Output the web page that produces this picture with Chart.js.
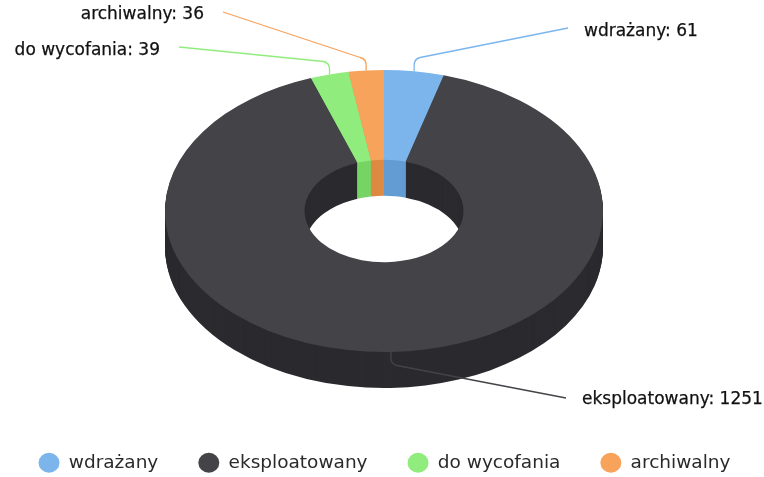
<!DOCTYPE html>
<html><head><meta charset="utf-8">
<style>html,body{margin:0;padding:0;background:#fff}canvas{display:block}</style>
<script src="https://cdn.jsdelivr.net/npm/chart.js@4"></script>
</head><body><canvas id="c" width="764" height="477"></canvas>
<script>
const categories = ['wdrażany', 'eksploatowany', 'do wycofania', 'archiwalny'];
const values = [61, 1251, 39, 36];
const topColors = ['#7cb5ec', '#434348', '#90ed7d', '#f7a35c'];
const wallColors = ['#639cd3', '#2a2a2f', '#77d464', '#de8a43'];
const labelAnchors = [
  {x: 584, y: 32, align: 'left',  bendY: 59, endX: 568, endY: 28},
  {x: 582, y: 400, align: 'left', bendY: 364, endX: 566, endY: 398},
  {x: 160, y: 51, align: 'right', bendY: 63, endX: 179, endY: 47},
  {x: 204, y: 15, align: 'right', bendY: 59, endX: 223, endY: 12}
];
const CX = 384, CY = 211, RX = 219, RY = 141, DEPTH = 36;
const LABEL_FONT = '17px "DejaVu Sans"';

const pie3d = {
  id: 'pie3d',
  beforeDatasetsDraw(chart) {
    const ctx = chart.ctx, arcs = chart.getDatasetMeta(0).data;
    const k = RY / RX;
    const place = (a, d) => {
      ctx.translate(CX, CY + d); ctx.scale(1, k); ctx.translate(-a.x, -a.y);
    };
    for (let d = DEPTH; d >= 1; d -= 1) {
      arcs.forEach((a, i) => {
        const o = a.options;
        a.options = {...o, backgroundColor: wallColors[i]};
        ctx.save(); place(a, d); a.draw(ctx); ctx.restore();
        a.options = o;
      });
    }
    arcs.forEach(a => { ctx.save(); place(a, 0); a.draw(ctx); ctx.restore(); });

    arcs.forEach((a, i) => {
      const mid = (a.startAngle + a.endAngle) / 2;
      const sx = CX + RX * Math.cos(mid), sy = CY + RY * Math.sin(mid);
      const L = labelAnchors[i];
      const dir = L.endX > sx ? 1 : -1;
      const below = L.bendY > sy;
      ctx.save();
      ctx.strokeStyle = topColors[i];
      ctx.lineWidth = 1.3;
      ctx.beginPath();
      ctx.moveTo(sx, sy);
      ctx.lineTo(sx, L.bendY + (below ? -6 : 6));
      ctx.quadraticCurveTo(sx, L.bendY, sx + dir * 6, L.bendY + (below ? 1.5 : -1.5));
      ctx.lineTo(L.endX, L.endY);
      ctx.stroke();
      ctx.font = LABEL_FONT;
      ctx.fillStyle = '#111';
      ctx.strokeStyle = '#111';
      ctx.lineWidth = 0.25;
      ctx.textAlign = L.align;
      ctx.textBaseline = 'middle';
      const t = categories[i] + ': ' + values[i];
      ctx.fillText(t, L.x, L.y);
      ctx.strokeText(t, L.x, L.y);
      ctx.restore();
    });
    return false;
  }
};

new Chart(document.getElementById('c'), {
  type: 'doughnut',
  plugins: [pie3d],
  data: {
    labels: categories,
    datasets: [{data: values, backgroundColor: topColors, borderWidth: 0, clip: false}]
  },
  options: {
    responsive: false,
    animation: false,
    radius: RX,
    cutout: '36.3%',
    layout: {padding: {bottom: -5, left: -37, right: -42}},
    plugins: {
      tooltip: {enabled: false},
      legend: {
        position: 'bottom',
        labels: {
          usePointStyle: true,
          pointStyle: 'circle',
          pointStyleWidth: 21,
          boxHeight: 14,
          padding: 40,
          color: '#2a2a2a',
          font: {family: '"DejaVu Sans"', size: 18.5}
        }
      }
    }
  }
});
</script></body></html>
